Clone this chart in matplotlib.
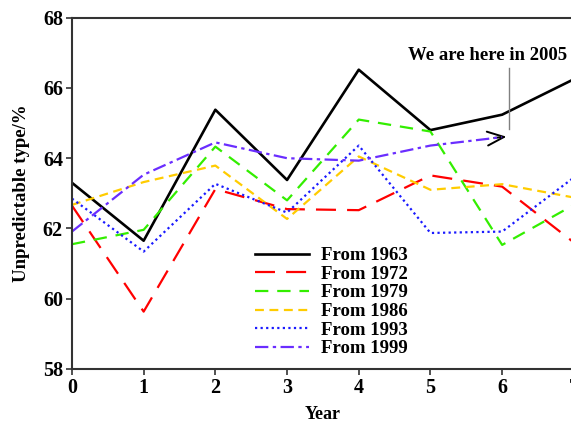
import matplotlib.pyplot as plt
from matplotlib.patches import FancyArrowPatch

plt.rcParams['font.family'] = ['Liberation Serif', 'DejaVu Serif']
plt.rcParams['font.weight'] = 'bold'

# Data
years = [0, 1, 2, 3, 4, 5, 6, 7]
from_1963 = [63.3, 61.65, 65.38, 63.38, 66.52, 64.8, 65.24, 66.25]
from_1972 = [62.65, 59.63, 63.12, 62.55, 62.52, 63.51, 63.19, 61.6]
from_1979 = [61.55, 61.96, 64.33, 62.8, 65.1, 64.76, 61.53, 62.67]
from_1986 = [62.67, 63.32, 63.79, 62.27, 64.05, 63.1, 63.26, 62.88]
from_1993 = [62.85, 61.34, 63.27, 62.45, 64.36, 61.87, 61.91, 63.45]
from_1999 = [61.91, 63.53, 64.45, 64.0, 63.93, 64.36, 64.6]

fig = plt.figure(figsize=(5.71, 4.23), dpi=100)
ax = fig.add_axes([0.126, 0.128, 0.879, 0.830])

ax.plot(years, from_1963, color='black', lw=1.9, label='From 1963')
ax.plot(years, from_1972, color='#ff0000', lw=1.6, dashes=(9, 5), label='From 1972')
ax.plot(years, from_1979, color='#33ee00', lw=1.6, dashes=(6, 4), label='From 1979')
ax.plot(years, from_1986, color='#ffcc00', lw=1.6, dashes=(4, 2.5), label='From 1986')
ax.plot(years, from_1993, color='#1a1aff', lw=1.6, dashes=(1, 1.5), label='From 1993')
ax.plot(years[:len(from_1999)], from_1999, color='#6a2dff', lw=1.6,
        dashes=(6, 2, 1.5, 2), label='From 1999')

# arrow head at the end of the 1999 curve
ax.add_patch(FancyArrowPatch((5.85, 64.57), (6.1, 64.62), arrowstyle='->,head_length=12,head_width=5',
                             color='black', lw=1.4, mutation_scale=1))
ax.plot([6.095, 6.095], [66.58, 64.82], color='gray', lw=1)
ax.text(5.8, 66.93, 'We are here in 2005', ha='center', va='center', fontsize=13.5, fontweight='bold')

ax.set_xlim(0, 7)
ax.set_ylim(58, 68)
ax.set_xticks(years)
ax.set_yticks([58, 60, 62, 64, 66, 68])
ax.tick_params(direction='out', length=4, width=1.2, labelsize=14.5, pad=2.5, color='#333333')
for s in ax.spines.values():
    s.set_linewidth(1.5)
    s.set_color('#333333')

ax.set_xlabel('Year', fontsize=13, fontweight='bold', labelpad=6)
ax.set_ylabel('Unpredictable type/%', fontsize=13.5, fontweight='bold', labelpad=9)

ax.legend(loc='upper left', bbox_to_anchor=(0.43, 0.438), bbox_transform=fig.transFigure,
          frameon=False, fontsize=13.5, handlelength=2.9, labelspacing=0.08, handletextpad=0.6,
          borderpad=0)

fig.savefig('out.png', dpi=100)
